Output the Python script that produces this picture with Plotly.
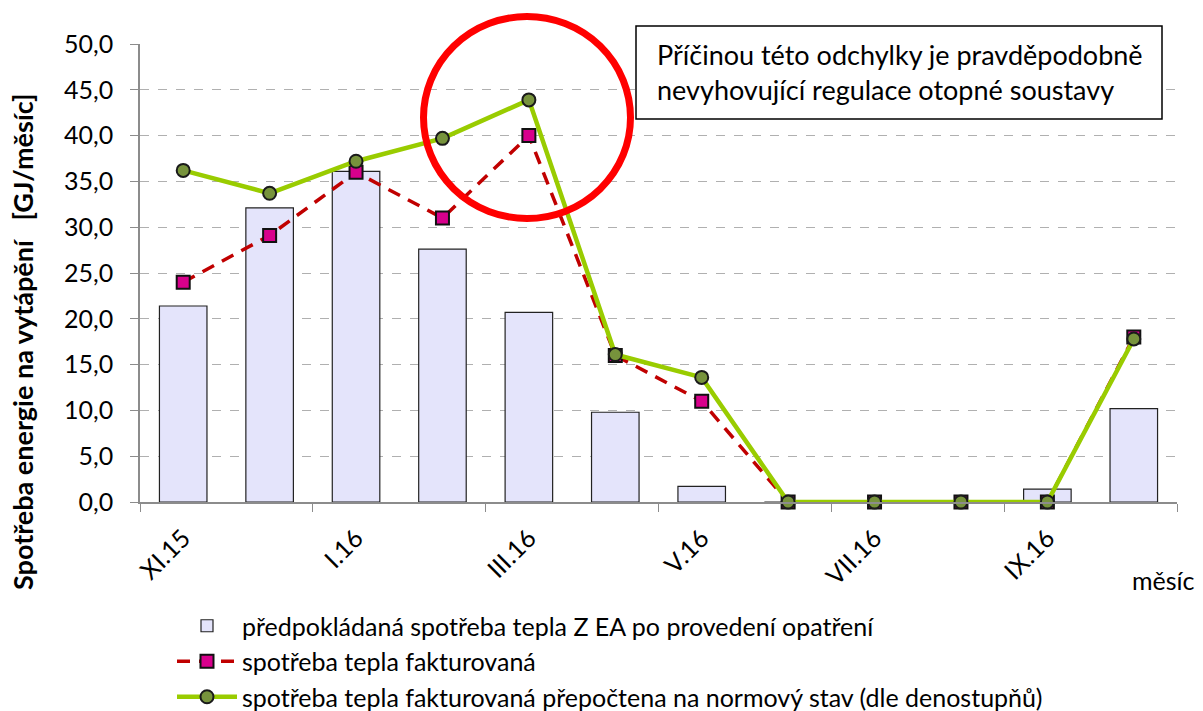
import plotly.graph_objects as go

months = ["XI.15", "XII.15", "I.16", "II.16", "III.16", "IV.16", "V.16",
          "VI.16", "VII.16", "VIII.16", "IX.16", "X.16"]
expected = [21.4, 32.1, 36.1, 27.6, 20.7, 9.8, 1.7, 0.0, 0.0, 0.0, 1.4, 10.2]
invoiced = [24.0, 29.1, 36.0, 31.0, 40.0, 16.0, 11.0, 0.0, 0.0, 0.0, 0.0, 18.0]
normalized = [36.2, 33.7, 37.2, 39.7, 43.9, 16.1, 13.6, 0.0, 0.0, 0.0, 0.0, 17.8]

name_bar = "předpokládaná spotřeba tepla Z EA po provedení opatření"
name_red = "spotřeba tepla fakturovaná"
name_green = "spotřeba tepla fakturovaná přepočtena na normový stav (dle denostupňů)"
ytitle = "Spotřeba energie na vytápění\u00a0\u00a0\u00a0[GJ/měsíc]"
note = "Příčinou této odchylky je pravděpodobně<br>nevyhovující regulace otopné soustavy"

FONT = "Lato"
idx = list(range(len(months)))

fig = go.Figure()
fig.add_trace(go.Bar(
    x=idx, y=expected, name=name_bar, width=0.55,
    marker=dict(color="#E4E4FB", line=dict(color="#222222", width=1.2))))
fig.add_trace(go.Scatter(
    x=idx, y=invoiced, name=name_red, mode="lines+markers",
    line=dict(color="#C00000", width=3.5, dash="13px,9px"),
    marker=dict(symbol="square", size=13, color="#D8008C",
                line=dict(color="#111111", width=2)),
    cliponaxis=False))
fig.add_trace(go.Scatter(
    x=idx, y=normalized, name=name_green, mode="lines+markers",
    line=dict(color="#99CC00", width=4.5),
    marker=dict(symbol="circle", size=13, color="#77933C",
                line=dict(color="#1a1a1a", width=2)),
    cliponaxis=False))

L, R, T, B = 140, 26, 44, 209
W, H = 1203, 711
pw, ph = W - L - R, H - T - B

def px(x):
    return (x - L) / pw

def py(y):
    return (H - B - y) / ph

fig.update_layout(
    width=W, height=H,
    margin=dict(l=L, r=R, t=T, b=B, autoexpand=False),
    plot_bgcolor="white", paper_bgcolor="white",
    separators=", ",
    font=dict(family=FONT, size=25, color="#000000"),
    showlegend=True,
    legend=dict(xref="container", yref="container",
                x=172 / W, y=1 - 603 / H, xanchor="left", yanchor="top",
                orientation="v", traceorder="normal",
                itemwidth=60, font=dict(size=25, family=FONT),
                bgcolor="rgba(0,0,0,0)"),
    xaxis=dict(range=[-0.5, 11.5], tickmode="array", tickvals=idx[::2],
               ticktext=months[::2], tickangle=-45, ticks="",
               showgrid=False, showline=True, linecolor="#8c8c8c", linewidth=1.5,
               zeroline=False, automargin=False, ticklabelstandoff=10,
               minor=dict(ticks="outside", ticklen=8, tickcolor="#8c8c8c",
                          tick0=-0.5, dtick=2, showgrid=False),
               tickfont=dict(size=25, family=FONT)),
    yaxis=dict(range=[0, 50], tickmode="linear", tick0=0, dtick=5,
               tickformat=".1f", ticks="outside", ticklen=8,
               tickcolor="#8c8c8c", showline=True, linecolor="#8c8c8c",
               linewidth=1.5, showgrid=True, gridcolor="#b0b0b0",
               griddash="dash", gridwidth=1, zeroline=False, automargin=False,
               ticklabelstandoff=12,
               tickfont=dict(size=25, family=FONT)),
)

# red highlight circle
fig.add_shape(type="circle", xref="paper", yref="paper",
              x0=px(423.5), x1=px(630.5), y0=py(218.5), y1=py(16.5),
              line=dict(color="#FF0000", width=7))

# note box
fig.add_shape(type="rect", xref="paper", yref="paper",
              x0=px(636), x1=px(1162), y0=py(119), y1=py(26),
              line=dict(color="#000000", width=1.5), fillcolor="white")
fig.add_annotation(xref="paper", yref="paper", x=px(655), y=py(72),
                   xanchor="left", yanchor="middle", text=note, showarrow=False,
                   align="left",
                   font=dict(size=27, family=FONT, color="#000000"))

# y-axis title
fig.add_annotation(xref="paper", yref="paper", x=px(22), y=py(342),
                   xanchor="center", yanchor="middle",
                   text="<b>" + ytitle + "</b>", showarrow=False, textangle=-90,
                   font=dict(size=27, family=FONT, color="#000000"))

# x-axis title
fig.add_annotation(xref="paper", yref="paper", x=px(1163), y=py(580),
                   xanchor="center", yanchor="middle",
                   text="měsíc", showarrow=False,
                   font=dict(size=25, family=FONT, color="#000000"))

fig.write_html("out.html", config={"displayModeBar": False},
               post_script="document.body.style.margin='0';")
